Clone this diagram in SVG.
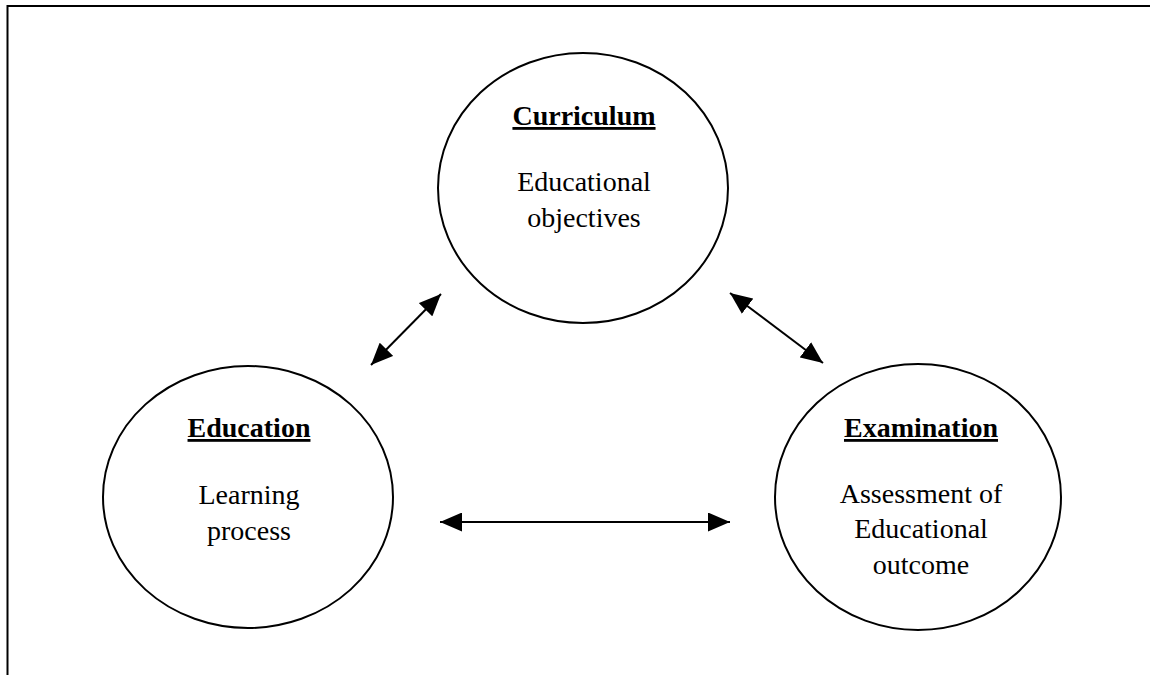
<svg xmlns="http://www.w3.org/2000/svg" width="1150" height="675" viewBox="0 0 1150 675">
<style>
.frame{stroke:#000;stroke-width:2;fill:none}
.node{fill:#fff;stroke:#000;stroke-width:2}
.title{font-family:"Liberation Serif","Times New Roman",serif;font-size:28px;font-weight:bold;text-decoration:underline;text-anchor:middle;fill:#000}
.body{font-family:"Liberation Serif","Times New Roman",serif;font-size:28px;text-anchor:middle;fill:#000}
.conn{stroke:#000;stroke-width:2;fill:none;marker-start:url(#ah);marker-end:url(#ah)}
</style>
<defs>
<marker id="ah" viewBox="0 0 22 19" refX="22" refY="9.5" markerWidth="22" markerHeight="19" markerUnits="userSpaceOnUse" orient="auto-start-reverse">
<path d="M0,0 L22,9.5 L0,19 Z" fill="#000"/>
</marker>
</defs>
<rect width="1150" height="675" fill="#fff"/>
<path class="frame" d="M7.5,675 V6 H1150"/>
<g id="curriculum">
<ellipse class="node" cx="583" cy="188" rx="145" ry="135"/>
<text class="title" x="584" y="125">Curriculum</text>
<text class="body" x="584" y="191">Educational</text>
<text class="body" x="584" y="227">objectives</text>
</g>
<g id="education">
<ellipse class="node" cx="248" cy="497" rx="145" ry="131"/>
<text class="title" x="249" y="437">Education</text>
<text class="body" x="249" y="504">Learning</text>
<text class="body" x="249" y="540">process</text>
</g>
<g id="examination">
<ellipse class="node" cx="918" cy="497" rx="143" ry="133"/>
<text class="title" x="921" y="437">Examination</text>
<text class="body" x="921" y="503">Assessment of</text>
<text class="body" x="921" y="538">Educational</text>
<text class="body" x="921" y="574">outcome</text>
</g>
<g id="connectors">
<line class="conn" x1="371" y1="365" x2="441" y2="294"/>
<line class="conn" x1="730" y1="293" x2="823" y2="363"/>
<line class="conn" x1="440" y1="522" x2="730" y2="522"/>
</g>
</svg>
